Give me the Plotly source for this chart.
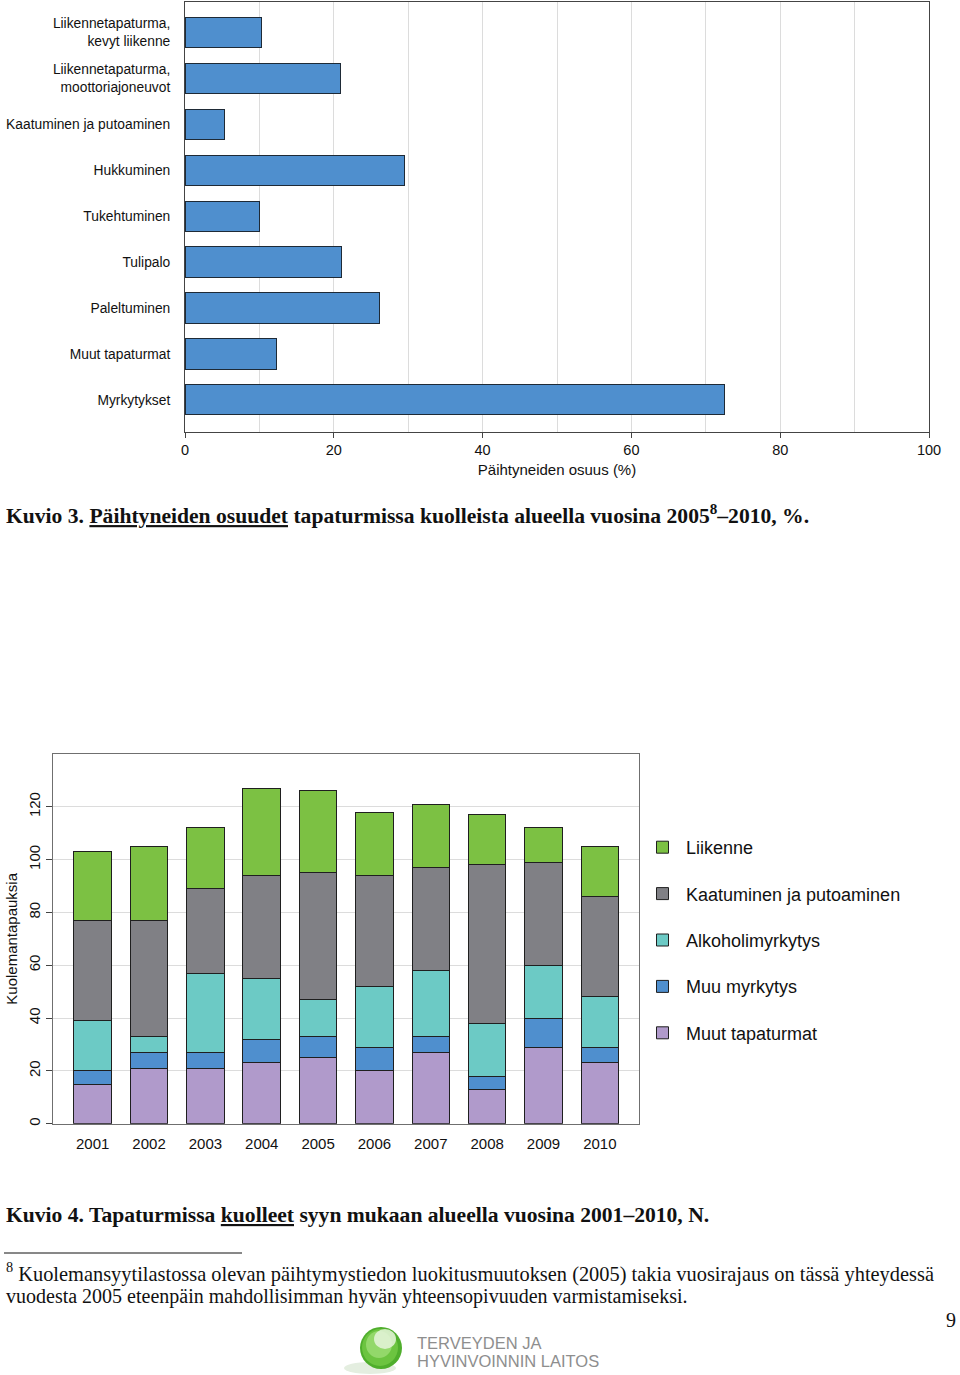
import plotly.graph_objects as go

W, H = 960, 1375

# ---------------- Data: chart 1 (Kuvio 3) ----------------
causes = [
    "Liikennetapaturma,<br>kevyt liikenne",
    "Liikennetapaturma,<br>moottoriajoneuvot",
    "Kaatuminen ja putoaminen",
    "Hukkuminen",
    "Tukehtuminen",
    "Tulipalo",
    "Paleltuminen",
    "Muut tapaturmat",
    "Myrkytykset",
]
share_drunk = [10.3, 20.9, 5.3, 29.5, 10.0, 21.1, 26.2, 12.3, 72.5]
x1_ticks = [0, 20, 40, 60, 80, 100]

# ---------------- Data: chart 2 (Kuvio 4) ----------------
years = ["2001", "2002", "2003", "2004", "2005", "2006", "2007", "2008", "2009", "2010"]
muut_tapaturmat = [15, 21, 21, 23, 25, 20, 27, 13, 29, 23]
muu_myrkytys = [5, 6, 6, 9, 8, 9, 6, 5, 11, 6]
alkoholimyrkytys = [19, 6, 30, 23, 14, 23, 25, 20, 20, 19]
kaatuminen = [38, 44, 32, 39, 48, 42, 39, 60, 39, 38]
liikenne = [26, 28, 23, 33, 31, 24, 24, 19, 13, 19]
y2_ticks = [0, 20, 40, 60, 80, 100, 120]


def px(x):
    return x / W


def py(y):
    return 1 - y / H


SANS = "Liberation Sans, Arial, sans-serif"
SERIF = "Liberation Serif, Times New Roman, serif"
OUTLINE = dict(color="#1e2a36", width=1)

fig = go.Figure()

# Chart 1: horizontal bars
fig.add_trace(go.Bar(
    x=share_drunk, y=causes, orientation="h",
    marker=dict(color="#4f8fce", line=OUTLINE),
    width=0.66, xaxis="x", yaxis="y", showlegend=False,
))

# Chart 2: stacked bars (bottom to top); legend shows top segment first
series = [
    ("Muut tapaturmat", muut_tapaturmat, "#b09acb"),
    ("Muu myrkytys", muu_myrkytys, "#4f8fce"),
    ("Alkoholimyrkytys", alkoholimyrkytys, "#6ccac5"),
    ("Kaatuminen ja putoaminen", kaatuminen, "#808085"),
    ("Liikenne", liikenne, "#7cc143"),
]
for i, (name, vals, col) in enumerate(series):
    fig.add_trace(go.Bar(
        x=years, y=vals, name=name, legendgroup=name,
        legendrank=len(series) - i,
        marker=dict(color=col, line=dict(color="#1f1f1f", width=1)),
        width=0.667, xaxis="x2", yaxis="y2",
    ))

fig.update_layout(
    template="none",
    width=W, height=H, autosize=False,
    margin=dict(l=0, r=0, t=0, b=0, pad=0, autoexpand=False),
    paper_bgcolor="white", plot_bgcolor="white",
    barmode="stack",
    font=dict(family=SANS, color="#111111"),
    xaxis=dict(
        domain=[px(185), px(929)], anchor="y", automargin=False,
        range=[0, 100], tickvals=x1_ticks,
        showgrid=True, gridcolor="#dcdcdc", gridwidth=1,
        minor=dict(dtick=10, showgrid=True, gridcolor="#dcdcdc", ticks=""),
        showline=True, linecolor="#444444", linewidth=1, mirror=True,
        ticks="outside", ticklen=5, tickcolor="#444444",
        tickfont=dict(size=14.5),
        title=dict(text="Päihtyneiden osuus (%)", font=dict(size=15), standoff=7),
        zeroline=False, fixedrange=True,
    ),
    yaxis=dict(
        domain=[py(431.5), py(2)], anchor="x", automargin=False,
        range=[8.69, -0.665], type="category",
        categoryorder="array", categoryarray=causes,
        showgrid=False, showline=True, linecolor="#444444", linewidth=1, mirror=True,
        ticks="", ticklabelstandoff=11,
        tickfont=dict(size=13.8),
        fixedrange=True,
    ),
    xaxis2=dict(
        domain=[px(52.7), px(639.3)], anchor="y2", automargin=False,
        range=[-0.71, 9.70], type="category",
        showgrid=False, showline=True, linecolor="#6f6f6f", linewidth=1, mirror=True,
        ticks="", tickfont=dict(size=15), ticklabelstandoff=6,
        fixedrange=True,
    ),
    yaxis2=dict(
        domain=[py(1123.7), py(754)], anchor="x2", automargin=False,
        range=[0, 140], tickvals=y2_ticks,
        showgrid=True, gridcolor="#dcdcdc", gridwidth=1,
        showline=True, linecolor="#6f6f6f", linewidth=1, mirror=True,
        ticks="outside", ticklen=6, tickcolor="#444444",
        tickangle=-90, tickfont=dict(size=15),
        title=dict(text="Kuolemantapauksia", font=dict(size=15), standoff=4),
        zeroline=False, fixedrange=True,
    ),
    legend=dict(
        x=px(639), xanchor="left", y=py(829), yanchor="top",
        font=dict(size=18, color="#111111"),
        traceorder="grouped", tracegroupgap=20,
        itemwidth=37, bgcolor="rgba(0,0,0,0)", borderwidth=0,
    ),
)

annotations = [
    dict(text="<b>Kuvio 3. <u>Päihtyneiden osuudet</u> tapaturmissa kuolleista alueella vuosina 2005<sup>8</sup>–2010, %.</b>",
         x=px(4), y=py(514), xanchor="left", yanchor="middle",
         font=dict(family=SERIF, size=21.6, color="#111111")),
    dict(text="<b>Kuvio 4. Tapaturmissa <u>kuolleet</u> syyn mukaan alueella vuosina 2001–2010, N.</b>",
         x=px(4), y=py(1215), xanchor="left", yanchor="middle",
         font=dict(family=SERIF, size=21.6, color="#111111")),
    dict(text="<sup>8</sup> Kuolemansyytilastossa olevan päihtymystiedon luokitusmuutoksen (2005) takia vuosirajaus on tässä yhteydessä",
         x=px(4), y=py(1272), xanchor="left", yanchor="middle",
         font=dict(family=SERIF, size=20.4, color="#111111")),
    dict(text="vuodesta 2005 eteenpäin mahdollisimman hyvän yhteensopivuuden varmistamiseksi.",
         x=px(4), y=py(1296), xanchor="left", yanchor="middle",
         font=dict(family=SERIF, size=20, color="#111111")),
    dict(text="9", x=px(958), y=py(1320), xanchor="right", yanchor="middle",
         font=dict(family=SERIF, size=20, color="#111111")),
    dict(text="TERVEYDEN JA", x=px(415), y=py(1343), xanchor="left", yanchor="middle",
         font=dict(family=SANS, size=16.5, color="#8e8e8e")),
    dict(text="HYVINVOINNIN LAITOS", x=px(415), y=py(1361), xanchor="left", yanchor="middle",
         font=dict(family=SANS, size=16.5, color="#8e8e8e")),
]
for a in annotations:
    a.update(xref="paper", yref="paper", showarrow=False)
fig.update_layout(annotations=annotations)

shapes = [
    # footnote separator
    dict(type="line", x0=px(4), x1=px(242), y0=py(1253), y1=py(1253),
         line=dict(color="#111111", width=1)),
    # logo shadow
    dict(type="circle", x0=px(344), x1=px(396), y0=py(1374), y1=py(1362),
         fillcolor="#e4eee0", line=dict(width=0), layer="above"),
    # logo sphere
    dict(type="circle", x0=px(360), x1=px(402), y0=py(1369), y1=py(1327),
         fillcolor="#4fae2c", line=dict(width=0), layer="above"),
    dict(type="circle", x0=px(362), x1=px(398), y0=py(1366), y1=py(1329),
         fillcolor="#6cc440", line=dict(width=0), layer="above"),
    dict(type="circle", x0=px(366), x1=px(392), y0=py(1358), y1=py(1331),
         fillcolor="#93d86a", line=dict(width=0), layer="above"),
    dict(type="circle", x0=px(374), x1=px(396), y0=py(1349), y1=py(1329),
         fillcolor="#e6f4dc", line=dict(width=0), layer="above", opacity=0.85),
]
for s in shapes:
    s.update(xref="paper", yref="paper")
fig.update_layout(shapes=shapes)

fig.write_html(
    "out.html",
    config={"displayModeBar": False},
    post_script="document.body.style.margin='0';document.body.style.overflow='hidden';",
)
